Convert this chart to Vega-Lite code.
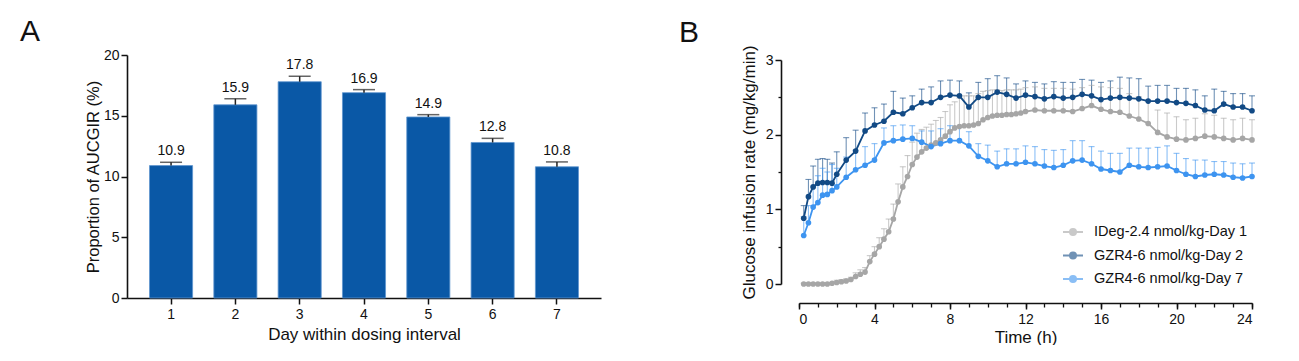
{
"$schema":"https://vega.github.io/schema/vega-lite/v6.json",
"padding":{"left":20,"top":17,"right":0,"bottom":0},
"background":"white",
"config":{
"font":"Liberation Sans",
"view":{"stroke":null},
"axis":{"labelFont":"Liberation Sans","titleFont":"Liberation Sans","labelColor":"#111","titleColor":"#111","domainColor":"#111","tickColor":"#111","grid":false,"domainWidth":1.6,"tickWidth":1.5,"labelFontSize":14,"titleFontSize":17,"titleFontWeight":"normal"},
"title":{"font":"Liberation Sans","fontSize":30,"fontWeight":"normal","anchor":"start","frame":"group","color":"#111"}
},
"columns":2,
"align":"none",
"spacing":78,
"resolve":{"scale":{"color":"independent"},"legend":{"color":"independent"}},
"concat":[
{
"title":{"text":"A","dx":-107,"offset":1},
"width":474,"height":243,
"data":{"values":[
{"day":"1","pct":10.9,"hi":11.17},
{"day":"2","pct":15.9,"hi":16.4},
{"day":"3","pct":17.8,"hi":18.25},
{"day":"4","pct":16.9,"hi":17.15},
{"day":"5","pct":14.9,"hi":15.09},
{"day":"6","pct":12.8,"hi":13.14},
{"day":"7","pct":10.8,"hi":11.2}
]},
"encoding":{"x":{"field":"day","type":"nominal","scale":{"paddingInner":0.33,"paddingOuter":0.35},"axis":{"labelAngle":0,"title":"Day within dosing interval","tickSize":6,"labelPadding":3,"titlePadding":5}}},
"layer":[
{"mark":{"type":"bar","color":"#0A58A6","stroke":"#5f95cf","strokeWidth":0.8},"encoding":{"y":{"field":"pct","type":"quantitative","scale":{"domain":[0,20],"nice":false},"axis":{"values":[0,5,10,15,20],"title":"Proportion of AUCGIR (%)","titleFontSize":16.5,"tickSize":6,"titlePadding":2}}}},
{"mark":{"type":"rule","color":"#222","strokeWidth":1.5},"encoding":{"y":{"field":"pct","type":"quantitative"},"y2":{"field":"hi"}}},
{"mark":{"type":"tick","orient":"horizontal","color":"#222","size":22,"thickness":1.5},"encoding":{"y":{"field":"hi","type":"quantitative"}}},
{"mark":{"type":"text","baseline":"bottom","dy":-4,"fontSize":14,"color":"#111"},"encoding":{"y":{"field":"hi","type":"quantitative"},"text":{"field":"pct","type":"quantitative","format":".1f"}}}
]
},
{
"title":{"text":"B","dx":-120,"offset":-3},
"width":453,"height":229,
"data":{"values":[
{"s":"IDeg-2.4 nmol/kg-Day 1","t":0.25,"gir":0,"hi":0.01},
{"s":"IDeg-2.4 nmol/kg-Day 1","t":0.5,"gir":0,"hi":0.01},
{"s":"IDeg-2.4 nmol/kg-Day 1","t":0.75,"gir":0,"hi":0.01},
{"s":"IDeg-2.4 nmol/kg-Day 1","t":1.0,"gir":0,"hi":0.01},
{"s":"IDeg-2.4 nmol/kg-Day 1","t":1.25,"gir":0,"hi":0.01},
{"s":"IDeg-2.4 nmol/kg-Day 1","t":1.5,"gir":0,"hi":0.01},
{"s":"IDeg-2.4 nmol/kg-Day 1","t":1.75,"gir":0.01,"hi":0.02},
{"s":"IDeg-2.4 nmol/kg-Day 1","t":2.0,"gir":0.02,"hi":0.05},
{"s":"IDeg-2.4 nmol/kg-Day 1","t":2.25,"gir":0.03,"hi":0.06},
{"s":"IDeg-2.4 nmol/kg-Day 1","t":2.5,"gir":0.04,"hi":0.07},
{"s":"IDeg-2.4 nmol/kg-Day 1","t":2.75,"gir":0.06,"hi":0.09},
{"s":"IDeg-2.4 nmol/kg-Day 1","t":3.0,"gir":0.10,"hi":0.15},
{"s":"IDeg-2.4 nmol/kg-Day 1","t":3.25,"gir":0.13,"hi":0.19},
{"s":"IDeg-2.4 nmol/kg-Day 1","t":3.5,"gir":0.16,"hi":0.22},
{"s":"IDeg-2.4 nmol/kg-Day 1","t":3.75,"gir":0.30,"hi":0.38},
{"s":"IDeg-2.4 nmol/kg-Day 1","t":4.0,"gir":0.40,"hi":0.50},
{"s":"IDeg-2.4 nmol/kg-Day 1","t":4.25,"gir":0.50,"hi":0.62},
{"s":"IDeg-2.4 nmol/kg-Day 1","t":4.5,"gir":0.60,"hi":0.74},
{"s":"IDeg-2.4 nmol/kg-Day 1","t":4.75,"gir":0.70,"hi":0.87},
{"s":"IDeg-2.4 nmol/kg-Day 1","t":5.0,"gir":0.87,"hi":1.07},
{"s":"IDeg-2.4 nmol/kg-Day 1","t":5.25,"gir":1.10,"hi":1.34},
{"s":"IDeg-2.4 nmol/kg-Day 1","t":5.5,"gir":1.30,"hi":1.57},
{"s":"IDeg-2.4 nmol/kg-Day 1","t":5.75,"gir":1.44,"hi":1.72},
{"s":"IDeg-2.4 nmol/kg-Day 1","t":6.0,"gir":1.60,"hi":1.90},
{"s":"IDeg-2.4 nmol/kg-Day 1","t":6.25,"gir":1.70,"hi":2.02},
{"s":"IDeg-2.4 nmol/kg-Day 1","t":6.5,"gir":1.77,"hi":2.07},
{"s":"IDeg-2.4 nmol/kg-Day 1","t":6.75,"gir":1.82,"hi":2.10},
{"s":"IDeg-2.4 nmol/kg-Day 1","t":7.0,"gir":1.86,"hi":2.14},
{"s":"IDeg-2.4 nmol/kg-Day 1","t":7.25,"gir":1.89,"hi":2.19},
{"s":"IDeg-2.4 nmol/kg-Day 1","t":7.5,"gir":1.93,"hi":2.23},
{"s":"IDeg-2.4 nmol/kg-Day 1","t":7.75,"gir":1.98,"hi":2.31},
{"s":"IDeg-2.4 nmol/kg-Day 1","t":8.0,"gir":2.04,"hi":2.40},
{"s":"IDeg-2.4 nmol/kg-Day 1","t":8.25,"gir":2.09,"hi":2.44},
{"s":"IDeg-2.4 nmol/kg-Day 1","t":8.5,"gir":2.11,"hi":2.49},
{"s":"IDeg-2.4 nmol/kg-Day 1","t":8.75,"gir":2.12,"hi":2.52},
{"s":"IDeg-2.4 nmol/kg-Day 1","t":9.0,"gir":2.12,"hi":2.52},
{"s":"IDeg-2.4 nmol/kg-Day 1","t":9.25,"gir":2.13,"hi":2.52},
{"s":"IDeg-2.4 nmol/kg-Day 1","t":9.5,"gir":2.15,"hi":2.55},
{"s":"IDeg-2.4 nmol/kg-Day 1","t":9.75,"gir":2.20,"hi":2.58},
{"s":"IDeg-2.4 nmol/kg-Day 1","t":10.0,"gir":2.23,"hi":2.59},
{"s":"IDeg-2.4 nmol/kg-Day 1","t":10.25,"gir":2.25,"hi":2.60},
{"s":"IDeg-2.4 nmol/kg-Day 1","t":10.5,"gir":2.26,"hi":2.60},
{"s":"IDeg-2.4 nmol/kg-Day 1","t":10.75,"gir":2.26,"hi":2.59},
{"s":"IDeg-2.4 nmol/kg-Day 1","t":11.0,"gir":2.27,"hi":2.60},
{"s":"IDeg-2.4 nmol/kg-Day 1","t":11.25,"gir":2.27,"hi":2.60},
{"s":"IDeg-2.4 nmol/kg-Day 1","t":11.5,"gir":2.28,"hi":2.60},
{"s":"IDeg-2.4 nmol/kg-Day 1","t":11.75,"gir":2.29,"hi":2.61},
{"s":"IDeg-2.4 nmol/kg-Day 1","t":12.0,"gir":2.31,"hi":2.63},
{"s":"IDeg-2.4 nmol/kg-Day 1","t":12.5,"gir":2.33,"hi":2.64},
{"s":"IDeg-2.4 nmol/kg-Day 1","t":13.0,"gir":2.32,"hi":2.62},
{"s":"IDeg-2.4 nmol/kg-Day 1","t":13.5,"gir":2.32,"hi":2.62},
{"s":"IDeg-2.4 nmol/kg-Day 1","t":14.0,"gir":2.32,"hi":2.62},
{"s":"IDeg-2.4 nmol/kg-Day 1","t":14.5,"gir":2.31,"hi":2.61},
{"s":"IDeg-2.4 nmol/kg-Day 1","t":15.0,"gir":2.35,"hi":2.63},
{"s":"IDeg-2.4 nmol/kg-Day 1","t":15.5,"gir":2.39,"hi":2.66},
{"s":"IDeg-2.4 nmol/kg-Day 1","t":16.0,"gir":2.34,"hi":2.64},
{"s":"IDeg-2.4 nmol/kg-Day 1","t":16.5,"gir":2.31,"hi":2.63},
{"s":"IDeg-2.4 nmol/kg-Day 1","t":17.0,"gir":2.30,"hi":2.62},
{"s":"IDeg-2.4 nmol/kg-Day 1","t":17.5,"gir":2.25,"hi":2.55},
{"s":"IDeg-2.4 nmol/kg-Day 1","t":18.0,"gir":2.21,"hi":2.51},
{"s":"IDeg-2.4 nmol/kg-Day 1","t":18.5,"gir":2.15,"hi":2.45},
{"s":"IDeg-2.4 nmol/kg-Day 1","t":19.0,"gir":2.03,"hi":2.33},
{"s":"IDeg-2.4 nmol/kg-Day 1","t":19.5,"gir":1.97,"hi":2.29},
{"s":"IDeg-2.4 nmol/kg-Day 1","t":20.0,"gir":1.94,"hi":2.24},
{"s":"IDeg-2.4 nmol/kg-Day 1","t":20.5,"gir":1.93,"hi":2.20},
{"s":"IDeg-2.4 nmol/kg-Day 1","t":21.0,"gir":1.95,"hi":2.22},
{"s":"IDeg-2.4 nmol/kg-Day 1","t":21.5,"gir":1.98,"hi":2.28},
{"s":"IDeg-2.4 nmol/kg-Day 1","t":22.0,"gir":1.97,"hi":2.26},
{"s":"IDeg-2.4 nmol/kg-Day 1","t":22.5,"gir":1.95,"hi":2.22},
{"s":"IDeg-2.4 nmol/kg-Day 1","t":23.0,"gir":1.93,"hi":2.20},
{"s":"IDeg-2.4 nmol/kg-Day 1","t":23.5,"gir":1.95,"hi":2.22},
{"s":"IDeg-2.4 nmol/kg-Day 1","t":24.0,"gir":1.93,"hi":2.20},
{"s":"GZR4-6 nmol/kg-Day 2","t":0.25,"gir":0.88,"hi":1.05},
{"s":"GZR4-6 nmol/kg-Day 2","t":0.5,"gir":1.17,"hi":1.40},
{"s":"GZR4-6 nmol/kg-Day 2","t":0.75,"gir":1.30,"hi":1.58},
{"s":"GZR4-6 nmol/kg-Day 2","t":1.0,"gir":1.35,"hi":1.67},
{"s":"GZR4-6 nmol/kg-Day 2","t":1.25,"gir":1.36,"hi":1.68},
{"s":"GZR4-6 nmol/kg-Day 2","t":1.5,"gir":1.36,"hi":1.67},
{"s":"GZR4-6 nmol/kg-Day 2","t":1.75,"gir":1.35,"hi":1.62},
{"s":"GZR4-6 nmol/kg-Day 2","t":2.0,"gir":1.47,"hi":1.77},
{"s":"GZR4-6 nmol/kg-Day 2","t":2.5,"gir":1.66,"hi":1.96},
{"s":"GZR4-6 nmol/kg-Day 2","t":3.0,"gir":1.78,"hi":2.06},
{"s":"GZR4-6 nmol/kg-Day 2","t":3.5,"gir":2.05,"hi":2.29},
{"s":"GZR4-6 nmol/kg-Day 2","t":4.0,"gir":2.13,"hi":2.36},
{"s":"GZR4-6 nmol/kg-Day 2","t":4.5,"gir":2.18,"hi":2.41},
{"s":"GZR4-6 nmol/kg-Day 2","t":5.0,"gir":2.30,"hi":2.58},
{"s":"GZR4-6 nmol/kg-Day 2","t":5.5,"gir":2.28,"hi":2.49},
{"s":"GZR4-6 nmol/kg-Day 2","t":6.0,"gir":2.36,"hi":2.52},
{"s":"GZR4-6 nmol/kg-Day 2","t":6.5,"gir":2.43,"hi":2.61},
{"s":"GZR4-6 nmol/kg-Day 2","t":7.0,"gir":2.43,"hi":2.64},
{"s":"GZR4-6 nmol/kg-Day 2","t":7.5,"gir":2.50,"hi":2.72},
{"s":"GZR4-6 nmol/kg-Day 2","t":8.0,"gir":2.53,"hi":2.73},
{"s":"GZR4-6 nmol/kg-Day 2","t":8.5,"gir":2.52,"hi":2.72},
{"s":"GZR4-6 nmol/kg-Day 2","t":9.0,"gir":2.37,"hi":2.56},
{"s":"GZR4-6 nmol/kg-Day 2","t":9.5,"gir":2.50,"hi":2.70},
{"s":"GZR4-6 nmol/kg-Day 2","t":10.0,"gir":2.50,"hi":2.75},
{"s":"GZR4-6 nmol/kg-Day 2","t":10.5,"gir":2.57,"hi":2.79},
{"s":"GZR4-6 nmol/kg-Day 2","t":11.0,"gir":2.54,"hi":2.76},
{"s":"GZR4-6 nmol/kg-Day 2","t":11.5,"gir":2.49,"hi":2.68},
{"s":"GZR4-6 nmol/kg-Day 2","t":12.0,"gir":2.53,"hi":2.72},
{"s":"GZR4-6 nmol/kg-Day 2","t":12.5,"gir":2.51,"hi":2.70},
{"s":"GZR4-6 nmol/kg-Day 2","t":13.0,"gir":2.48,"hi":2.68},
{"s":"GZR4-6 nmol/kg-Day 2","t":13.5,"gir":2.51,"hi":2.71},
{"s":"GZR4-6 nmol/kg-Day 2","t":14.0,"gir":2.49,"hi":2.70},
{"s":"GZR4-6 nmol/kg-Day 2","t":14.5,"gir":2.50,"hi":2.70},
{"s":"GZR4-6 nmol/kg-Day 2","t":15.0,"gir":2.54,"hi":2.74},
{"s":"GZR4-6 nmol/kg-Day 2","t":15.5,"gir":2.52,"hi":2.73},
{"s":"GZR4-6 nmol/kg-Day 2","t":16.0,"gir":2.47,"hi":2.70},
{"s":"GZR4-6 nmol/kg-Day 2","t":16.5,"gir":2.49,"hi":2.72},
{"s":"GZR4-6 nmol/kg-Day 2","t":17.0,"gir":2.50,"hi":2.77},
{"s":"GZR4-6 nmol/kg-Day 2","t":17.5,"gir":2.49,"hi":2.76},
{"s":"GZR4-6 nmol/kg-Day 2","t":18.0,"gir":2.48,"hi":2.75},
{"s":"GZR4-6 nmol/kg-Day 2","t":18.5,"gir":2.45,"hi":2.65},
{"s":"GZR4-6 nmol/kg-Day 2","t":19.0,"gir":2.45,"hi":2.66},
{"s":"GZR4-6 nmol/kg-Day 2","t":19.5,"gir":2.45,"hi":2.66},
{"s":"GZR4-6 nmol/kg-Day 2","t":20.0,"gir":2.43,"hi":2.62},
{"s":"GZR4-6 nmol/kg-Day 2","t":20.5,"gir":2.42,"hi":2.62},
{"s":"GZR4-6 nmol/kg-Day 2","t":21.0,"gir":2.39,"hi":2.60},
{"s":"GZR4-6 nmol/kg-Day 2","t":21.5,"gir":2.33,"hi":2.52},
{"s":"GZR4-6 nmol/kg-Day 2","t":22.0,"gir":2.32,"hi":2.61},
{"s":"GZR4-6 nmol/kg-Day 2","t":22.5,"gir":2.41,"hi":2.58},
{"s":"GZR4-6 nmol/kg-Day 2","t":23.0,"gir":2.37,"hi":2.55},
{"s":"GZR4-6 nmol/kg-Day 2","t":23.5,"gir":2.37,"hi":2.55},
{"s":"GZR4-6 nmol/kg-Day 2","t":24.0,"gir":2.32,"hi":2.52},
{"s":"GZR4-6 nmol/kg-Day 7","t":0.25,"gir":0.65,"hi":0.90},
{"s":"GZR4-6 nmol/kg-Day 7","t":0.5,"gir":0.82,"hi":1.05},
{"s":"GZR4-6 nmol/kg-Day 7","t":0.75,"gir":1.03,"hi":1.30},
{"s":"GZR4-6 nmol/kg-Day 7","t":1.0,"gir":1.09,"hi":1.45},
{"s":"GZR4-6 nmol/kg-Day 7","t":1.25,"gir":1.19,"hi":1.55},
{"s":"GZR4-6 nmol/kg-Day 7","t":1.5,"gir":1.20,"hi":1.50},
{"s":"GZR4-6 nmol/kg-Day 7","t":1.75,"gir":1.25,"hi":1.60},
{"s":"GZR4-6 nmol/kg-Day 7","t":2.0,"gir":1.30,"hi":1.55},
{"s":"GZR4-6 nmol/kg-Day 7","t":2.5,"gir":1.43,"hi":1.70},
{"s":"GZR4-6 nmol/kg-Day 7","t":3.0,"gir":1.53,"hi":1.79},
{"s":"GZR4-6 nmol/kg-Day 7","t":3.5,"gir":1.59,"hi":1.84},
{"s":"GZR4-6 nmol/kg-Day 7","t":4.0,"gir":1.66,"hi":1.88},
{"s":"GZR4-6 nmol/kg-Day 7","t":4.5,"gir":1.89,"hi":2.09},
{"s":"GZR4-6 nmol/kg-Day 7","t":5.0,"gir":1.92,"hi":2.12},
{"s":"GZR4-6 nmol/kg-Day 7","t":5.5,"gir":1.94,"hi":2.13},
{"s":"GZR4-6 nmol/kg-Day 7","t":6.0,"gir":1.95,"hi":2.12},
{"s":"GZR4-6 nmol/kg-Day 7","t":6.5,"gir":1.90,"hi":2.05},
{"s":"GZR4-6 nmol/kg-Day 7","t":7.0,"gir":1.84,"hi":2.05},
{"s":"GZR4-6 nmol/kg-Day 7","t":7.5,"gir":1.88,"hi":2.08},
{"s":"GZR4-6 nmol/kg-Day 7","t":8.0,"gir":1.92,"hi":2.12},
{"s":"GZR4-6 nmol/kg-Day 7","t":8.5,"gir":1.92,"hi":2.10},
{"s":"GZR4-6 nmol/kg-Day 7","t":9.0,"gir":1.85,"hi":2.04},
{"s":"GZR4-6 nmol/kg-Day 7","t":9.5,"gir":1.71,"hi":1.88},
{"s":"GZR4-6 nmol/kg-Day 7","t":10.0,"gir":1.65,"hi":1.86},
{"s":"GZR4-6 nmol/kg-Day 7","t":10.5,"gir":1.57,"hi":1.78},
{"s":"GZR4-6 nmol/kg-Day 7","t":11.0,"gir":1.61,"hi":1.81},
{"s":"GZR4-6 nmol/kg-Day 7","t":11.5,"gir":1.61,"hi":1.81},
{"s":"GZR4-6 nmol/kg-Day 7","t":12.0,"gir":1.63,"hi":1.85},
{"s":"GZR4-6 nmol/kg-Day 7","t":12.5,"gir":1.61,"hi":1.84},
{"s":"GZR4-6 nmol/kg-Day 7","t":13.0,"gir":1.58,"hi":1.80},
{"s":"GZR4-6 nmol/kg-Day 7","t":13.5,"gir":1.56,"hi":1.79},
{"s":"GZR4-6 nmol/kg-Day 7","t":14.0,"gir":1.59,"hi":1.80},
{"s":"GZR4-6 nmol/kg-Day 7","t":14.5,"gir":1.65,"hi":1.92},
{"s":"GZR4-6 nmol/kg-Day 7","t":15.0,"gir":1.66,"hi":1.92},
{"s":"GZR4-6 nmol/kg-Day 7","t":15.5,"gir":1.61,"hi":1.84},
{"s":"GZR4-6 nmol/kg-Day 7","t":16.0,"gir":1.54,"hi":1.78},
{"s":"GZR4-6 nmol/kg-Day 7","t":16.5,"gir":1.52,"hi":1.75},
{"s":"GZR4-6 nmol/kg-Day 7","t":17.0,"gir":1.50,"hi":1.75},
{"s":"GZR4-6 nmol/kg-Day 7","t":17.5,"gir":1.59,"hi":1.82},
{"s":"GZR4-6 nmol/kg-Day 7","t":18.0,"gir":1.57,"hi":1.82},
{"s":"GZR4-6 nmol/kg-Day 7","t":18.5,"gir":1.56,"hi":1.82},
{"s":"GZR4-6 nmol/kg-Day 7","t":19.0,"gir":1.57,"hi":1.83},
{"s":"GZR4-6 nmol/kg-Day 7","t":19.5,"gir":1.58,"hi":1.85},
{"s":"GZR4-6 nmol/kg-Day 7","t":20.0,"gir":1.52,"hi":1.75},
{"s":"GZR4-6 nmol/kg-Day 7","t":20.5,"gir":1.47,"hi":1.68},
{"s":"GZR4-6 nmol/kg-Day 7","t":21.0,"gir":1.44,"hi":1.66},
{"s":"GZR4-6 nmol/kg-Day 7","t":21.5,"gir":1.46,"hi":1.66},
{"s":"GZR4-6 nmol/kg-Day 7","t":22.0,"gir":1.47,"hi":1.64},
{"s":"GZR4-6 nmol/kg-Day 7","t":22.5,"gir":1.46,"hi":1.64},
{"s":"GZR4-6 nmol/kg-Day 7","t":23.0,"gir":1.43,"hi":1.62},
{"s":"GZR4-6 nmol/kg-Day 7","t":23.5,"gir":1.42,"hi":1.61},
{"s":"GZR4-6 nmol/kg-Day 7","t":24.0,"gir":1.44,"hi":1.62}
]},
"layer":[
{"mark":{"type":"rule","strokeWidth":1.1,"opacity":0.6},
"encoding":{
"x":{"field":"t","type":"quantitative","scale":{"domain":[0,24],"nice":false},"axis":{"orient":"bottom","values":[0,1,2,3,4,5,6,7,8,9,10,11,12,13,14,15,16,17,18,19,20,21,22,23,24],"labels":false,"domain":false,"tickSize":4,"title":null,"offset":19,"tickWidth":1.3}},
"y":{"field":"gir","type":"quantitative","scale":{"domain":[0,3],"nice":false,"range":[229,5]},"axis":{"orient":"left","values":[0.5,1.5,2.5],"labels":false,"domain":false,"tickSize":3,"title":null,"offset":18,"tickWidth":1.3}},
"y2":{"field":"hi"},
"color":{"field":"s","type":"nominal","scale":{"domain":["IDeg-2.4 nmol/kg-Day 1","GZR4-6 nmol/kg-Day 2","GZR4-6 nmol/kg-Day 7"],"range":["#A6A6A6","#124A85","#3D94F0"]}}}},
{"mark":{"type":"tick","orient":"horizontal","size":6,"thickness":1.1,"opacity":0.6},
"encoding":{"x":{"field":"t","type":"quantitative","axis":null},"y":{"field":"hi","type":"quantitative","axis":null},"color":{"field":"s","type":"nominal"}}},
{"mark":{"type":"line","strokeWidth":1.8,"point":{"filled":true,"size":32}},
"encoding":{
"x":{"field":"t","type":"quantitative","axis":{"orient":"bottom","values":[0,4,8,12,16,20,24],"title":"Time (h)","tickSize":6,"offset":19,"labelPadding":3,"titlePadding":3}},
"y":{"field":"gir","type":"quantitative","axis":{"orient":"left","values":[0,1,2,3],"title":"Glucose infusion rate (mg/kg/min)","tickSize":6,"offset":18,"titlePadding":7}},
"color":{"field":"s","type":"nominal","legend":{"orient":"none","legendX":263,"legendY":166,"title":null,"labelFontSize":14.5,"labelFont":"Liberation Sans","labelColor":"#111","symbolType":"M-1,0H1M-0.3,0A0.3,0.3,0,1,1,0.3,0A0.3,0.3,0,1,1,-0.3,0M-0.15,0A0.15,0.15,0,1,1,0.15,0A0.15,0.15,0,1,1,-0.15,0","symbolSize":400,"symbolStrokeWidth":2,"rowPadding":5.5,"labelOffset":10}}}}
],
"resolve":{"axis":{"x":"independent","y":"independent"}}
}
]
}
